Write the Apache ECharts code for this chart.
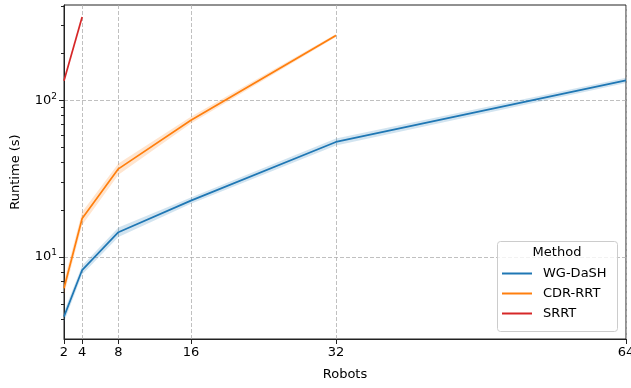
<!DOCTYPE html>
<html>
<head>
<meta charset="utf-8">
<script src="https://cdn.jsdelivr.net/npm/echarts@6/dist/echarts.min.js"></script>
<style>
html,body{margin:0;padding:0;background:#fff;}
#c{width:631px;height:388px;}
</style>
</head>
<body>
<div id="c"></div>
<script>
// ---- data ----
const robots = [2, 4, 8, 16, 32, 64];
const wgMean  = [4.17, 8.26, 14.4, 22.9, 54.2, 134];
const wgLow   = [3.85, 7.75, 13.4, 21.9, 51.5, 129];
const wgHigh  = [4.5, 8.8, 15.4, 24.0, 57.0, 139];
const cdrRobots = [2, 4, 8, 16, 32];
const cdrMean = [6.32, 17.6, 36.5, 74.6, 259];
const cdrLow  = [5.75, 16.0, 33.5, 71.0, 253];
const cdrHigh = [7.0, 19.4, 39.5, 78.5, 265];
const srrtRobots = [2, 4];
const srrtMean = [133, 340];
const xTicks = [2, 4, 8, 16, 32, 64];
const yMajorTicks = [10, 100];
const yMinorTicks = [4, 5, 6, 7, 8, 9, 20, 30, 40, 50, 60, 70, 80, 90, 200, 300, 400];

const FONT = 'DejaVu Sans';
const C_BLUE = '#1f77b4', C_ORANGE = '#ff7f0e', C_RED = '#d62728';

function bandSeries(xs, low, high, color) {
  return {
    type: 'custom',
    silent: true,
    z: 1,
    data: [0],
    renderItem: function (params, api) {
      const pts = [];
      for (let i = 0; i < xs.length; i++) pts.push(api.coord([xs[i], high[i]]));
      for (let i = xs.length - 1; i >= 0; i--) pts.push(api.coord([xs[i], low[i]]));
      return { type: 'polygon', shape: { points: pts }, style: { fill: color, opacity: 0.2 } };
    }
  };
}
function zip(a, b) { return a.map((v, i) => [v, b[i]]); }

const chart = echarts.init(document.getElementById('c'), null, { renderer: 'canvas' });
const gridDef = { left: 64, right: 5, top: 5, bottom: 49, show: true, borderColor: '#222', borderWidth: 1, backgroundColor: 'transparent', containLabel: false, outerBoundsMode: 'none' };

const option = {
  animation: false,
  textStyle: { fontFamily: FONT },
  grid: gridDef,
  xAxis: {
    type: 'value', min: 2, max: 64, interval: 2,
    name: 'Robots', nameLocation: 'middle', nameGap: 29,
    nameTextStyle: { fontFamily: FONT, fontSize: 13, color: '#000' },
    axisLine: { show: true, lineStyle: { color: '#222', width: 1 } },
    axisTick: { show: true, length: 5, customValues: xTicks, lineStyle: { color: '#222' } },
    axisLabel: { customValues: xTicks, fontFamily: FONT, fontSize: 13, color: '#000', margin: 7, hideOverlap: false },
    splitLine: { show: true, lineStyle: { color: '#b0b0b0', type: [4, 2], width: 0.8 } }
  },
  yAxis: [{
    type: 'log', logBase: 10, min: 3.0, max: 405,
    name: 'Runtime (s)', nameLocation: 'middle', nameGap: 42, nameRotate: 90,
    nameTextStyle: { fontFamily: FONT, fontSize: 13, color: '#000' },
    axisLine: { show: true, lineStyle: { color: '#222', width: 1 } },
    axisTick: { show: true, length: 5, customValues: yMajorTicks, lineStyle: { color: '#222' } },
    axisLabel: {
      customValues: yMajorTicks, margin: 7,
      formatter: function (v) { return '{b|10}{s|' + Math.round(Math.log10(v)) + '}'; },
      rich: {
        b: { fontFamily: FONT, fontSize: 13, color: '#000' },
        s: { fontFamily: FONT, fontSize: 9, color: '#000', padding: [0, 0, 8, 0] }
      }
    },
    splitLine: { show: true, lineStyle: { color: '#b0b0b0', type: [4, 2], width: 0.8 } }
  }, {
    type: 'log', logBase: 10, min: 3.0, max: 405, position: 'left',
    axisLine: { show: false },
    axisTick: { show: true, length: 3, customValues: yMinorTicks, lineStyle: { color: '#222' } },
    axisLabel: { show: false },
    splitLine: { show: false }
  }],
  legend: {
    orient: 'vertical', left: 502, top: 267,
    itemWidth: 30, itemHeight: 14, itemGap: 7,
    padding: 0, z: 10,
    icon: 'path://M0,6 L30,6 L30,8 L0,8 Z',
    textStyle: { fontFamily: FONT, fontSize: 13, color: '#000', padding: [0, 0, 0, 6] },
    data: [
      { name: 'WG-DaSH', itemStyle: { color: C_BLUE } },
      { name: 'CDR-RRT', itemStyle: { color: C_ORANGE } },
      { name: 'SRRT', itemStyle: { color: C_RED } }
    ]
  },
  graphic: [{
    type: 'rect', z: 5,
    shape: { x: 497.5, y: 241.5, width: 120, height: 90, r: 3 },
    style: { fill: 'rgba(255,255,255,0.8)', stroke: '#cccccc', lineWidth: 1 }
  }, {
    type: 'text', z: 11, x: 557, y: 252.5,
    style: { text: 'Method', fontFamily: FONT, fontSize: 13, fill: '#000', align: 'center', verticalAlign: 'middle' }
  }],
  series: [
    bandSeries(robots, wgLow, wgHigh, C_BLUE),
    bandSeries(cdrRobots, cdrLow, cdrHigh, C_ORANGE),
    { name: 'WG-DaSH', type: 'line', data: zip(robots, wgMean), symbol: 'none', z: 3,
      lineStyle: { color: C_BLUE, width: 1.7 }, itemStyle: { color: C_BLUE } },
    { name: 'CDR-RRT', type: 'line', data: zip(cdrRobots, cdrMean), symbol: 'none', z: 3,
      lineStyle: { color: C_ORANGE, width: 1.7 }, itemStyle: { color: C_ORANGE } },
    { name: 'SRRT', type: 'line', data: zip(srrtRobots, srrtMean), symbol: 'none', z: 3,
      lineStyle: { color: C_RED, width: 1.7 }, itemStyle: { color: C_RED } }
  ]
};
chart.setOption(option);
</script>
</body>
</html>
